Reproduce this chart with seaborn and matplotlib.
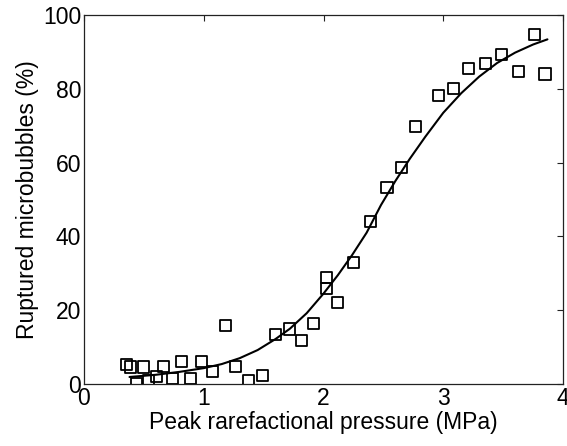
import matplotlib
matplotlib.use("Agg")
import matplotlib.pyplot as plt
import seaborn as sns
import pandas as pd

# Measured data (open squares)
pressure = [0.356, 0.39, 0.44, 0.495, 0.54, 0.603, 0.664, 0.738, 0.813, 0.893, 0.979,
            1.072, 1.184, 1.266, 1.376, 1.488, 1.600, 1.717, 1.818, 1.920,
            2.026, 2.026, 2.114, 2.254, 2.396, 2.530, 2.654, 2.770, 2.957,
            3.083, 3.210, 3.353, 3.489, 3.628, 3.759, 3.850]
ruptured = [5.3, 4.6, 0.0, 4.6, 0.8, 2.1, 4.8, 1.4, 6.1, 1.5, 6.1,
            3.3, 15.8, 4.7, 0.9, 2.3, 13.4, 14.9, 11.8, 16.4,
            28.9, 25.9, 22.0, 32.9, 44.0, 53.2, 58.7, 69.9, 78.3,
            80.1, 85.5, 86.9, 89.4, 84.6, 94.8, 84.0]

# Fitted curve
fit_x = [0.38, 0.60, 0.80, 1.00, 1.15, 1.30, 1.45, 1.60, 1.72, 1.86, 2.00, 2.12,
         2.24, 2.36, 2.48, 2.60, 2.72, 2.85, 3.00, 3.15, 3.30, 3.45, 3.60, 3.75, 3.87]
fit_y = [1.9, 2.5, 3.3, 4.3, 5.4, 7.0, 9.2, 12.2, 15.0, 19.2, 24.5, 29.5,
         35.0, 41.0, 48.5, 55.0, 61.0, 67.0, 73.5, 78.8, 83.3, 87.0, 89.8, 92.0, 93.4]

x_ticks = [0, 1, 2, 3, 4]
y_ticks = [0, 20, 40, 60, 80, 100]

sns.set_style("white")
plt.rcParams['font.family'] = ['Liberation Sans', 'DejaVu Sans']
plt.rcParams['text.color'] = 'black'
plt.rcParams['axes.labelcolor'] = 'black'
plt.rcParams['xtick.color'] = 'black'
plt.rcParams['ytick.color'] = 'black'

fig = plt.figure(figsize=(5.67, 4.46), dpi=100)
ax = fig.add_axes([84/567, 62/446, (563-84)/567, (384-15)/446])

df_pts = pd.DataFrame({"x": pressure, "y": ruptured})
df_fit = pd.DataFrame({"x": fit_x, "y": fit_y})

sns.lineplot(data=df_fit, x="x", y="y", ax=ax, color="black", linewidth=1.5,
             sort=False, estimator=None)
sns.scatterplot(data=df_pts, x="x", y="y", ax=ax, marker="s", s=64,
                facecolor="none", edgecolor="black", linewidth=1.3, zorder=3)

fs = 16.5
ax.set_xlim(0, 4)
ax.set_ylim(0, 100)
ax.set_xticks(x_ticks)
ax.set_yticks(y_ticks)
ax.set_xlabel("Peak rarefactional pressure (MPa)", fontsize=fs, labelpad=1,
              color="black")
ax.set_ylabel("Ruptured microbubbles (%)", fontsize=fs, labelpad=3, color="black")
ax.tick_params(axis="both", direction="in", length=4, width=0.8, labelsize=fs,
               top=True, right=True, color="#222222", labelcolor="black", pad=2)
for sp in ax.spines.values():
    sp.set_visible(True)
    sp.set_color("#222222")
    sp.set_linewidth(0.9)

fig.savefig("out.png", dpi=100)
